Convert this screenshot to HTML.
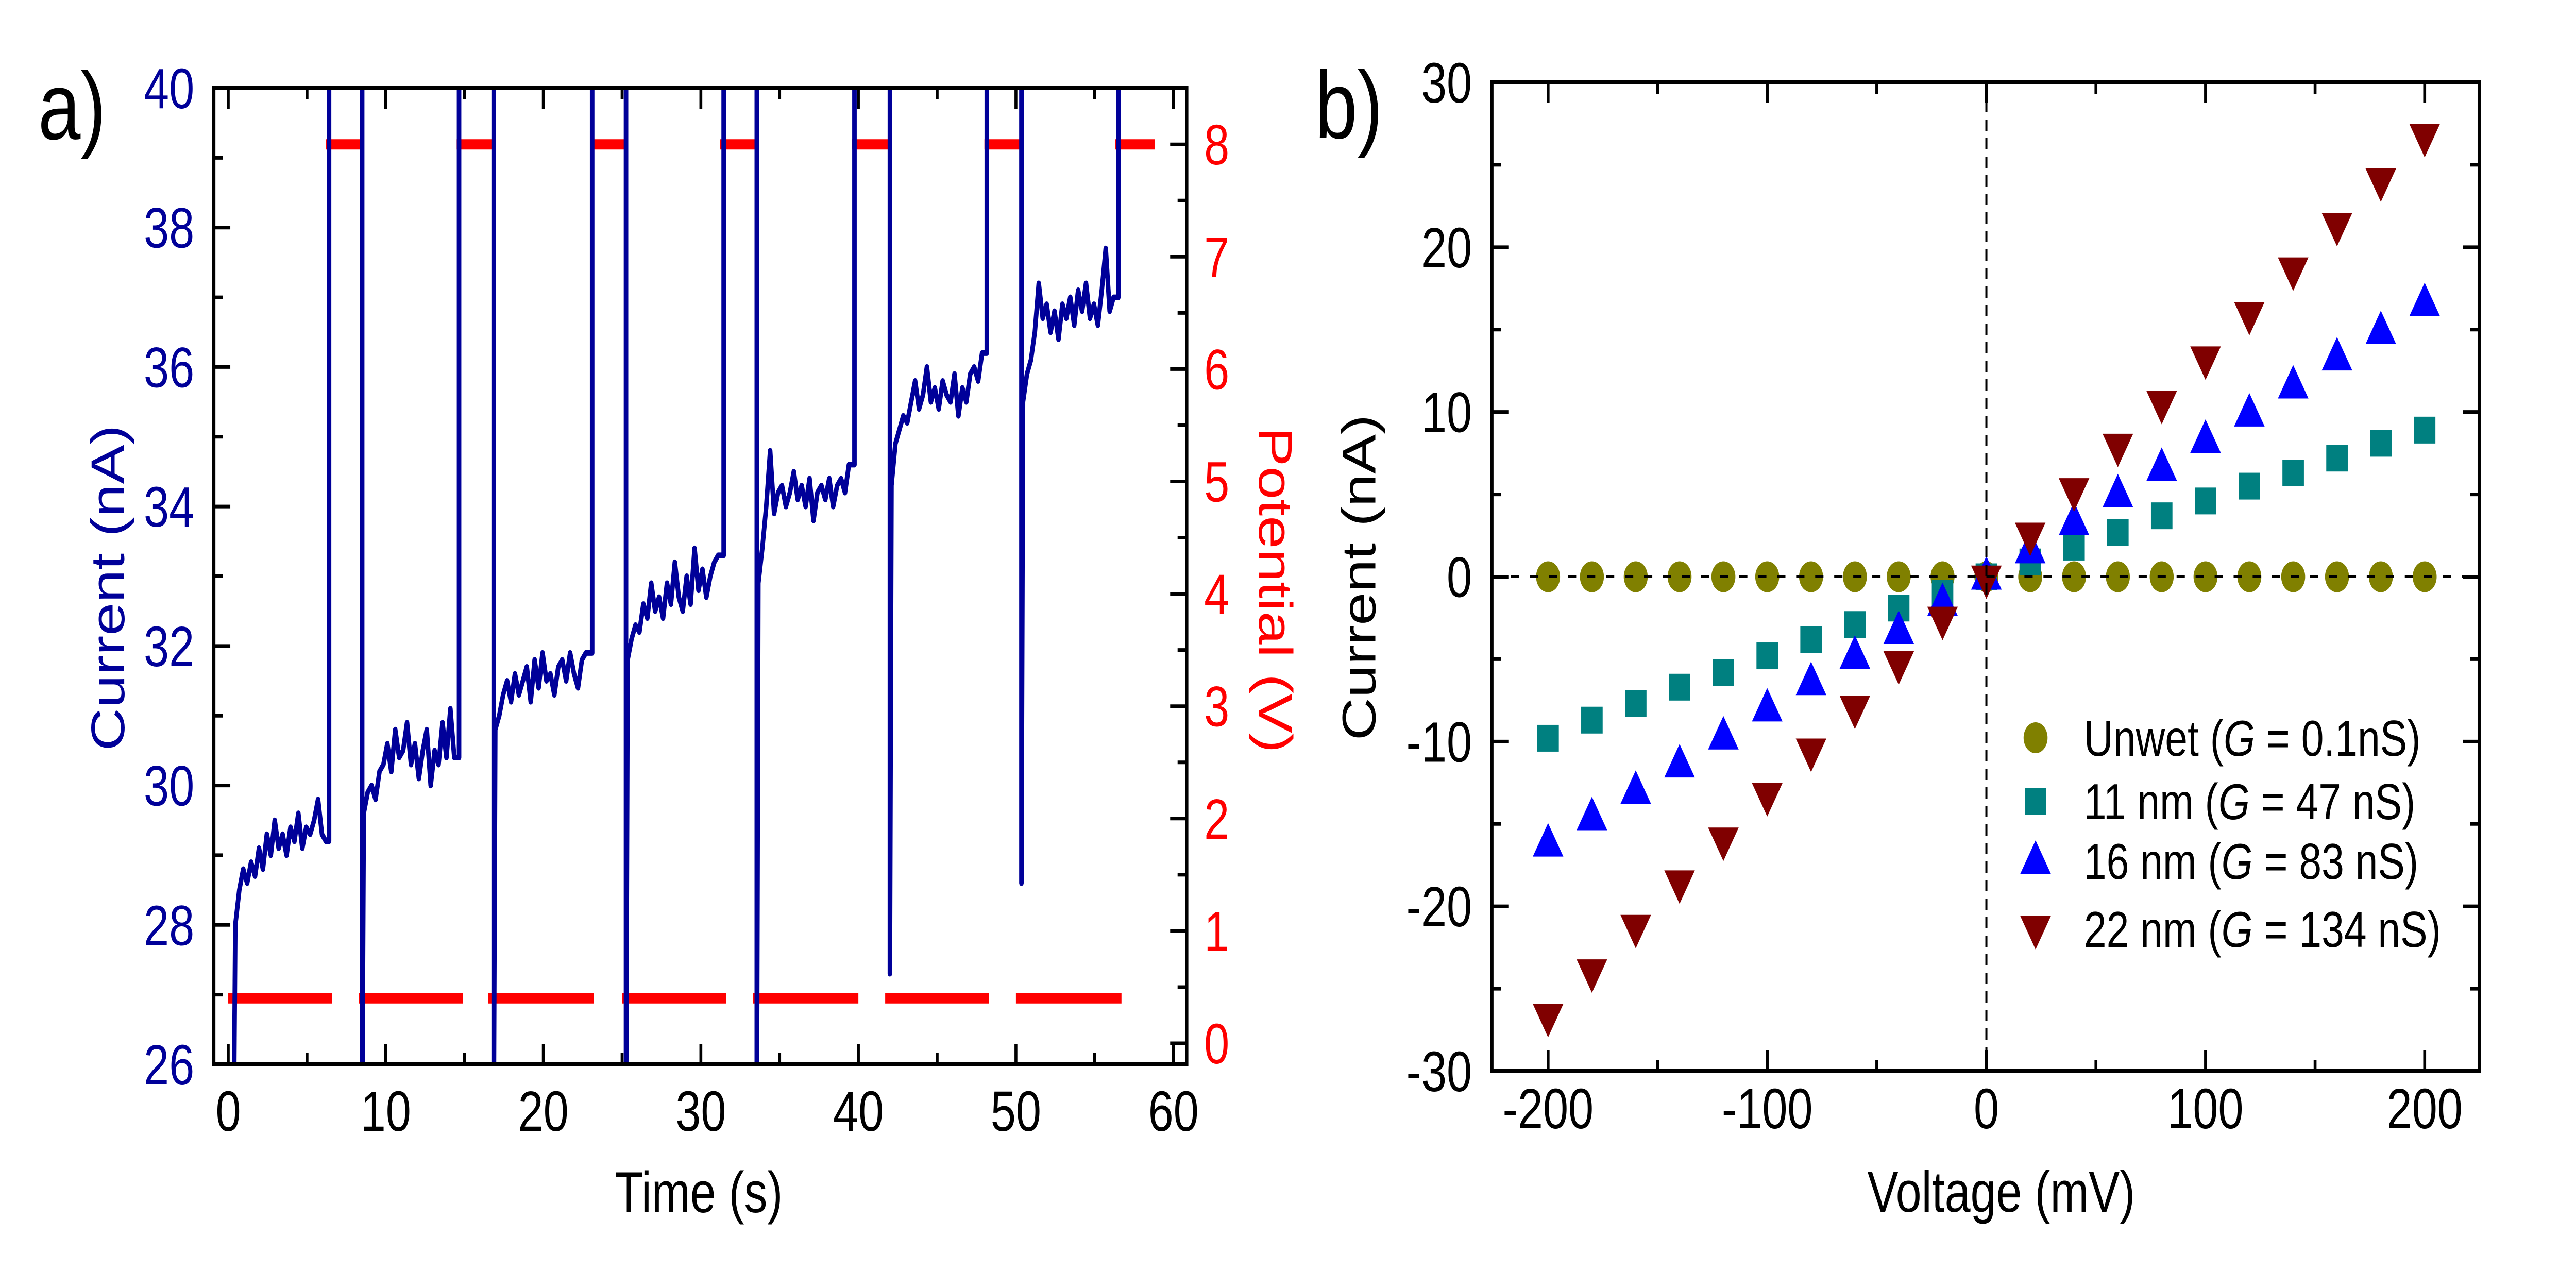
<!DOCTYPE html>
<html><head><meta charset="utf-8">
<style>
html,body{margin:0;padding:0;background:#fff;width:100%;height:100%;overflow:hidden;}
svg{display:block;position:fixed;left:0;top:0;width:100vw;height:100vh;font-family:"Liberation Sans",Arial,sans-serif;}
</style></head>
<body>
<svg id="fig" xmlns="http://www.w3.org/2000/svg" viewBox="0 0 6230 2467" preserveAspectRatio="none">
<rect x="0" y="0" width="6230" height="2467" fill="#fff"/>
<defs>
<clipPath id="clipA"><rect x="517" y="171" width="2353" height="1895"/></clipPath>
</defs>
<g id="panelA"></g>
<g id="panelB"></g>
</svg>
<script>
// ===== Panel a data =====
const downTimes = [0.35, 8.5, 16.85, 25.25, 33.55, 42.0, 50.35];
const downMins  = [25, 25, 25, 25, 25, 27.3, 28.6];
const upTimes   = [6.4, 14.65, 23.1, 31.45, 39.75, 48.15, 56.5];
const segStep = 0.25;
const seg1 = [28.0,28.5,28.8,28.6,28.9,28.7,29.1,28.8,29.3,29.0,29.5,29.1,29.3,29.0,29.4,29.2,29.6,29.1,29.4,29.3,29.5,29.8,29.3,29.2];
const seg2 = [29.6,29.9,30.0,29.8,30.2,30.3,30.6,30.2,30.8,30.4,30.5,30.9,30.3,30.6,30.1,30.5,30.8,30.0,30.5,30.3,30.9,30.4,31.1,30.4];
const seg3 = [30.8,31.0,31.3,31.5,31.2,31.6,31.3,31.5,31.7,31.2,31.8,31.4,31.9,31.5,31.6,31.3,31.7,31.8,31.5,31.9,31.6,31.4,31.8,31.9];
const seg4 = [31.8,32.1,32.3,32.2,32.6,32.4,32.9,32.5,32.7,32.4,32.9,32.6,33.2,32.7,32.5,33.0,32.6,33.4,32.8,33.1,32.7,33.0,33.2,33.3];
const seg5 = [32.9,33.4,34.0,34.8,33.9,34.2,34.3,34.0,34.2,34.5,34.1,34.3,34.0,34.4,33.8,34.2,34.3,34.1,34.4,34.0,34.3,34.4,34.2,34.6];
const seg6 = [34.3,34.9,35.1,35.3,35.2,35.5,35.8,35.4,35.6,36.0,35.5,35.7,35.4,35.8,35.6,35.5,35.9,35.3,35.7,35.5,35.9,36.0,35.8,36.2];
const seg7 = [35.5,35.9,36.1,36.5,37.2,36.7,36.9,36.5,36.8,36.4,36.9,36.7,37.0,36.6,37.1,36.8,37.2,36.7,36.9,36.6,37.1,37.7,36.8,37.0];
const segments = [seg1, seg2, seg3, seg4, seg5, seg6, seg7];
const lowStart  = [0, 8.3, 16.5, 25.0, 33.3, 41.7, 50.0];
const lowEnd    = [6.6, 14.9, 23.2, 31.6, 40.0, 48.3, 56.7];
const highStart = [6.2, 14.5, 23.0, 31.2, 39.6, 48.0, 56.3];
const highEnd   = [8.5, 16.8, 25.3, 33.6, 42.0, 50.3, 58.8];
const lowV = 0.4;
const highV = 8.0;
const timeTicks = [0, 10, 20, 30, 40, 50, 60];
const currentTicksA = [26, 28, 30, 32, 34, 36, 38, 40];
const potentialTicks = [0, 1, 2, 3, 4, 5, 6, 7, 8];

// ===== Panel b data =====
const voltages = [-200,-180,-160,-140,-120,-100,-80,-60,-40,-20,0,20,40,60,80,100,120,140,160,180,200];
const unwet = [0,0,0,0,0,0,0,0,0,0,0,0,0,0,0,0,0,0,0,0,0];
const nm11 = [-9.8,-8.7,-7.7,-6.7,-5.8,-4.8,-3.8,-2.9,-1.9,-1.0,0,0.9,1.8,2.7,3.7,4.6,5.5,6.3,7.2,8.1,8.9];
const nm16 = [-16.2,-14.6,-13.0,-11.4,-9.7,-8.0,-6.4,-4.8,-3.3,-1.6,0,1.6,3.3,5.0,6.6,8.3,9.9,11.6,13.3,14.9,16.6];
const nm22 = [-26.7,-24.0,-21.3,-18.6,-16.0,-13.3,-10.6,-8.0,-5.3,-2.6,-0.1,2.5,5.2,7.9,10.5,13.2,15.9,18.6,21.3,24.0,26.7];
const voltTicks = [-200, -100, 0, 100, 200];
const currentTicksB = [-30, -20, -10, 0, 10, 20, 30];

const NS = "http://www.w3.org/2000/svg";
function mk(parent, tag, attrs, text){
  const e = document.createElementNS(NS, tag);
  for (const k in attrs) e.setAttribute(k, attrs[k]);
  if (text !== undefined) e.textContent = text;
  parent.appendChild(e);
  return e;
}

// ---------- Panel a ----------
const A = document.getElementById('panelA');
const aL=517, aR=2870, aT=171, aB=2066;
const txA = t => 552 + (t-0)*38.1;
const iyA = c => aB - (c-26)*(aB-aT)/14;
const vyA = v => 2025 - v*218.1;

const redG = mk(A,'g',{});


for (let i=0;i<lowStart.length;i++){
  const l = mk(redG,'line',{x1:txA(lowStart[i]),x2:txA(lowEnd[i]),y1:vyA(lowV),y2:vyA(lowV),stroke:'#ff0000','stroke-width':20});
  
  
}
for (let i=0;i<highStart.length;i++){
  const l = mk(redG,'line',{x1:txA(highStart[i]),x2:txA(highEnd[i]),y1:vyA(highV),y2:vyA(highV),stroke:'#ff0000','stroke-width':20});
  
  
}

let pts = [];
for (let i=0;i<segments.length;i++){
  if (i>0) pts.push([downTimes[i], 41.5]);
  pts.push([downTimes[i], downMins[i]]);
  const s = segments[i];
  for (let k=0;k<s.length;k++) pts.push([downTimes[i]+0.1+k*segStep, s[k]]);
  pts.push([upTimes[i], s[s.length-1]]);
  pts.push([upTimes[i], 41.5]);
}
const trace = mk(A,'polyline',{points:pts.map(p=>txA(p[0]).toFixed(1)+','+iyA(p[1]).toFixed(1)).join(' '),fill:'none',stroke:'#000099','stroke-width':11,'stroke-linejoin':'round','clip-path':'url(#clipA)'});



const frA = mk(A,'rect',{x:aL,y:aT,width:aR-aL,height:aB-aT,fill:'none',stroke:'#000','stroke-width':8});



for (let t=0;t<=60;t+=5){
  const len = (t%10===0)?40:22;
  mk(A,'line',{x1:txA(t),x2:txA(t),y1:aB,y2:aB-len,stroke:'#000','stroke-width':7});
  mk(A,'line',{x1:txA(t),x2:txA(t),y1:aT,y2:aT+len,stroke:'#000','stroke-width':7});
}
timeTicks.forEach(t=>{
  const e = mk(A,'text',{x:txA(t),y:2195,'font-size':110,'text-anchor':'middle',fill:'#000'},String(t));
  
  
});
for (let c=26;c<=40;c+=1){
  const len = (c%2===0)?40:22;
  mk(A,'line',{x1:aL,x2:aL+len,y1:iyA(c),y2:iyA(c),stroke:'#000','stroke-width':7});
}
currentTicksA.forEach(c=>{
  const e = mk(A,'text',{x:470,y:iyA(c)+39,'font-size':110,'text-anchor':'end',fill:'#000099'},String(c));
  
  
});
for (let v=0;v<=8;v+=0.5){
  const len = (v%1===0)?40:22;
  mk(A,'line',{x1:aR,x2:aR-len,y1:vyA(v),y2:vyA(v),stroke:'#000','stroke-width':7});
}
potentialTicks.forEach(v=>{
  const e = mk(A,'text',{x:2912,y:vyA(v)+39,'font-size':110,'text-anchor':'start',fill:'#ff0000'},String(v));
  
  
});
let e;
e = mk(A,'text',{x:1690,y:2353,'font-size':112,'text-anchor':'middle',fill:'#000'},'Time (s)');


e = mk(A,'text',{x:0,y:0,'font-size':115,'text-anchor':'middle',fill:'#000099',transform:'translate(300,1141) rotate(-90)'},'Current (nA)');


e = mk(A,'text',{x:0,y:0,'font-size':115,'text-anchor':'middle',fill:'#ff0000',transform:'translate(3045,1145) rotate(90)'},'Potential (V)');


e = mk(A,'text',{x:92,y:270,'font-size':185,fill:'#000'},'a)');



// ---------- Panel b ----------
const B = document.getElementById('panelB');
const bL=3608, bR=5996, bT=160, bB=2079;
const vxB = v => 4804 + v*5.30;
const iyB = c => 1119.5 - c*(bB-bT)/60;

function circle(g,x,y,col){ return mk(g,'ellipse',{cx:x,cy:y,rx:29,ry:30,fill:col}); }
function square(g,x,y,col){ return mk(g,'rect',{x:x-26,y:y-26,width:52,height:52,fill:col}); }
function triUp(g,x,y,col){ return mk(g,'polygon',{points:`${x-37},${y+25} ${x+37},${y+25} ${x},${y-40}`,fill:col}); }
function triDown(g,x,y,col){ return mk(g,'polygon',{points:`${x-37},${y-25} ${x+37},${y-25} ${x},${y+40}`,fill:col}); }

const series = [
  {vals:unwet, col:'#808000', shape:circle, name:'series-unwet'},
  {vals:nm11, col:'#008080', shape:square, name:'series-11nm'},
  {vals:nm16, col:'#0000ff', shape:triUp, name:'series-16nm'},
  {vals:nm22, col:'#800000', shape:triDown, name:'series-22nm'}
];
series.forEach(s=>{
  const g = mk(B,'g',{});
  
  
  voltages.forEach((v,i)=>{
    const m = s.shape(g, vxB(v), iyB(s.vals[i]), s.col);
    
    
  });
});
e = mk(B,'line',{x1:bL,x2:bR,y1:iyB(0),y2:iyB(0),stroke:'#000','stroke-width':5,'stroke-dasharray':'20 26'});


e = mk(B,'line',{x1:vxB(0),x2:vxB(0),y1:bT,y2:bB,stroke:'#000','stroke-width':5,'stroke-dasharray':'22 14'});



const frB = mk(B,'rect',{x:bL,y:bT,width:bR-bL,height:bB-bT,fill:'none',stroke:'#000','stroke-width':8});


for (let v=-200;v<=200;v+=50){
  const len = (v%100===0)?40:22;
  mk(B,'line',{x1:vxB(v),x2:vxB(v),y1:bB,y2:bB-len,stroke:'#000','stroke-width':7});
  mk(B,'line',{x1:vxB(v),x2:vxB(v),y1:bT,y2:bT+len,stroke:'#000','stroke-width':7});
}
for (let c=-30;c<=30;c+=5){
  const len = (c%10===0)?40:22;
  mk(B,'line',{x1:bL,x2:bL+len,y1:iyB(c),y2:iyB(c),stroke:'#000','stroke-width':7});
  mk(B,'line',{x1:bR,x2:bR-len,y1:iyB(c),y2:iyB(c),stroke:'#000','stroke-width':7});
}
voltTicks.forEach(v=>{
  const t = mk(B,'text',{x:vxB(v),y:2190,'font-size':110,'text-anchor':'middle',fill:'#000'},String(v));
  
  
});
currentTicksB.forEach(c=>{
  const t = mk(B,'text',{x:3560,y:iyB(c)+39,'font-size':110,'text-anchor':'end',fill:'#000'},String(c));
  
  
});
e = mk(B,'text',{x:4840,y:2352,'font-size':112,'text-anchor':'middle',fill:'#000'},'Voltage (mV)');


e = mk(B,'text',{x:0,y:0,'font-size':115,'text-anchor':'middle',fill:'#000',transform:'translate(3326,1121) rotate(-90)'},'Current (nA)');


e = mk(B,'text',{x:3180,y:268,'font-size':185,fill:'#000'},'b)');



const legendLabels = [['Unwet (','G',' = 0.1nS)'],['11 nm (','G',' = 47 nS)'],['16 nm (','G',' = 83 nS)'],['22 nm (','G',' = 134 nS)']];
const legendRows = [1432, 1555, 1671, 1803];
const leg = mk(B,'g',{});


series.forEach((s,i)=>{
  const g = mk(leg,'g',{});
  
  
  s.shape(g, 4923, legendRows[i], s.col);
  const t = mk(g,'text',{x:5040,y:legendRows[i]+35,'font-size':98,fill:'#000'});
  mk(t,'tspan',{},legendLabels[i][0]);
  mk(t,'tspan',{'font-style':'italic'},legendLabels[i][1]);
  mk(t,'tspan',{},legendLabels[i][2]);
});
</script>
</body></html>
